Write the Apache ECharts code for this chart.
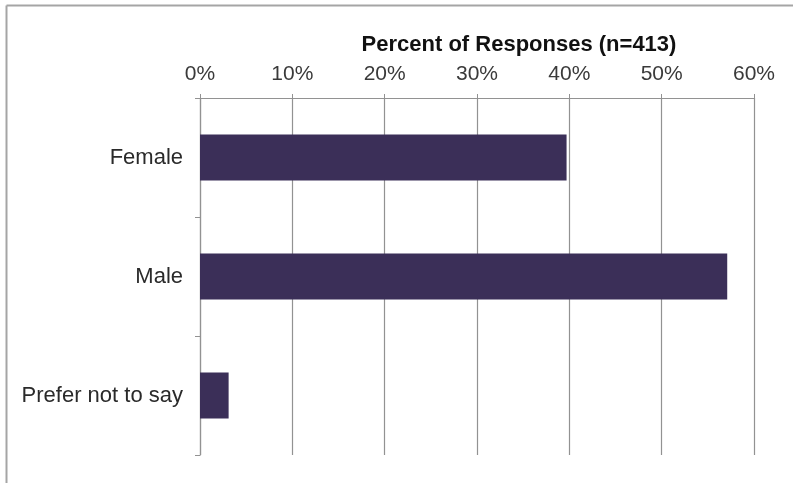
<!DOCTYPE html>
<html>
<head>
<meta charset="utf-8">
<script src="https://cdn.jsdelivr.net/npm/echarts@6/dist/echarts.min.js"></script>
<style>
html,body{margin:0;padding:0;background:#fff;}
#chart{width:793px;height:483px;}
</style>
</head>
<body>
<div id="chart"></div>
<script>
const categories = ['Female', 'Male', 'Prefer not to say'];
const percentValues = [39.7, 57.1, 3.1];
const axisTitle = 'Percent of Responses (n=413)';

const chart = echarts.init(document.getElementById('chart'), null, {renderer: 'canvas'});
const font = '"Liberation Sans", Arial, Helvetica, sans-serif';
const gray = '#929292';
chart.setOption({
  backgroundColor: '#ffffff',
  animation: false,
  title: {
    text: axisTitle,
    left: 514,
    top: 29,
    textAlign: 'center',
    textStyle: {fontFamily: font, fontSize: 22, fontWeight: 'bold', color: '#111'}
  },
  graphic: [
    {type: 'line', shape: {x1: 6.5, y1: 5.5, x2: 793, y2: 5.5}, style: {stroke: '#a5a5a5', lineWidth: 2}},
    {type: 'line', shape: {x1: 6.5, y1: 5.5, x2: 6.5, y2: 483}, style: {stroke: '#a5a5a5', lineWidth: 2}}
  ],
  grid: {left: 200, right: 39, top: 98, bottom: 28, containLabel: false},
  xAxis: {
    type: 'value',
    position: 'top',
    min: 0, max: 60, interval: 10,
    axisLine: {show: true, lineStyle: {color: gray, width: 1}},
    axisTick: {show: true, length: 4, lineStyle: {color: gray}},
    splitLine: {show: true, lineStyle: {color: gray, width: 1.2}},
    axisLabel: {formatter: '{value}%', fontFamily: font, fontSize: 21, color: '#3a3a3a', margin: 13}
  },
  yAxis: {
    type: 'category',
    inverse: true,
    data: categories,
    axisLine: {show: true, lineStyle: {color: gray, width: 1.2}},
    axisTick: {show: true, length: 5, lineStyle: {color: gray}},
    axisLabel: {fontFamily: font, fontSize: 22, color: '#2a2a2a', margin: 17}
  },
  series: [{
    type: 'bar',
    data: percentValues,
    barWidth: 46,
    itemStyle: {color: '#3b2f58'}
  }]
});
</script>
</body>
</html>
